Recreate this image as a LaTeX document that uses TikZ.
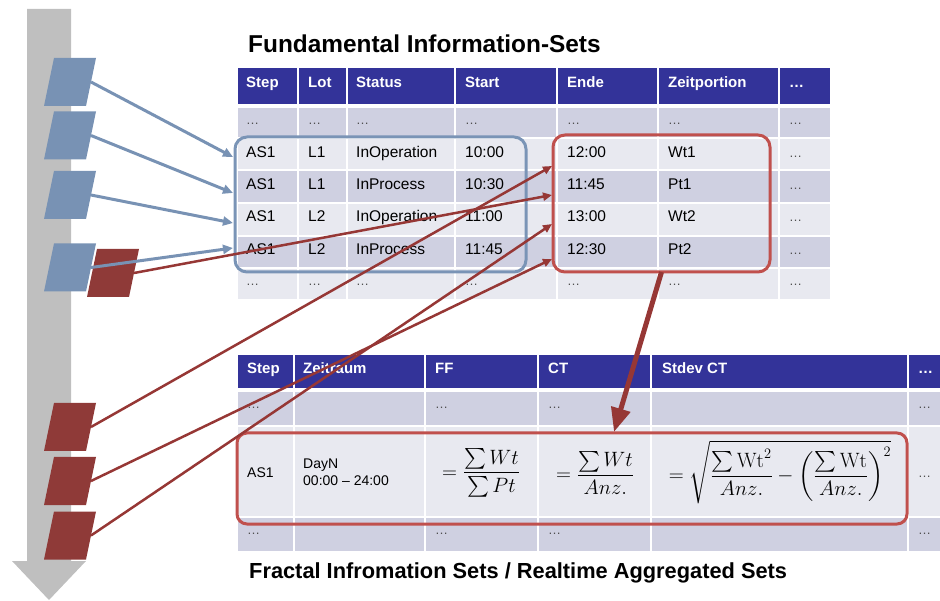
\documentclass[tikz,border=0pt]{standalone}
\usepackage[no-math]{fontspec}
\usepackage{exscale}
\setmainfont{Liberation Sans}
\usetikzlibrary{arrows.meta}
\definecolor{hdr}{RGB}{51,51,153}
\definecolor{cdark}{RGB}{207,208,225}
\definecolor{clight}{RGB}{232,233,240}
\definecolor{garrow}{RGB}{191,191,191}
\definecolor{bluebox}{RGB}{120,146,180}
\definecolor{redbox}{RGB}{143,58,56}
\definecolor{redline}{RGB}{150,55,53}
\definecolor{redframe}{RGB}{192,80,77}
\definecolor{blueframe}{RGB}{122,148,182}
\definecolor{dotgray}{RGB}{80,80,80}
\begin{document}
\begin{tikzpicture}[x=1pt,y=-1pt,
  cell/.style={anchor=base west, inner sep=0pt, font=\fontsize{15.5}{18}\selectfont},
  smallcell/.style={anchor=base west, inner sep=0pt, font=\fontsize{14}{17}\selectfont},
  hcell/.style={anchor=base west, inner sep=0pt, text=white, font=\fontsize{15}{18}\selectfont\bfseries},
  dcell/.style={anchor=base west, inner sep=0pt, text=dotgray, font=\fontsize{13}{16}\selectfont},
  titletext/.style={anchor=base west, inner sep=0pt, font=\fontsize{24.4}{28}\selectfont\bfseries},
  mathcell/.style={anchor=center, inner sep=0pt, font=\fontsize{20}{24}\selectfont},
  frame/.style={draw, rounded corners=12pt, inner sep=0pt, outer sep=0pt, line width=3pt},
  bluearr/.style={draw=bluebox, line width=3pt, -{Triangle[length=10pt,width=9pt]}},
  redarr/.style={draw=redline, line width=2.5pt, -{Triangle[length=9pt,width=8pt]}},
  bigarr/.style={draw=redline, line width=5pt, -{Triangle[length=24pt,width=19pt]}},
  para/.pic={\path[fill] (-26,24) -- (16,24) -- (26,-24) -- (-16,-24) -- cycle;
             \coordinate (-r) at (21,0);}
]
\useasboundingbox (0,0) rectangle (940,601);

% grey time arrow
\fill[garrow] (27,9) -- (71,9) -- (71,561) -- (86,561) -- (49,600) -- (12,561) -- (27,561) -- cycle;

% parallelograms
\pic[fill=bluebox] (b1) at (70,82) {para};
\pic[fill=bluebox] (b2) at (70,135.5) {para};
\pic[fill=bluebox] (b3) at (70,195) {para};
\pic[fill=bluebox] (b4) at (70,267.5) {para};
\pic[fill=redbox] (r0) at (113,273) {para};
\pic[fill=redbox] (rb1) at (70,427) {para};
\pic[fill=redbox] (rb2) at (70,481) {para};
\pic[fill=redbox] (rb3) at (70,535.5) {para};

% titles
\node[titletext] (title1) at (248,53) {Fundamental Information-Sets};
\node[titletext, font=\fontsize{21.8}{25}\selectfont\bfseries] (title2) at (249,578) {Fractal Infromation Sets / Realtime Aggregated Sets};

% ===== top table =====
\foreach \xa/\xb in {237/298,298/347,347/455,455/557,557/658,658/779,779/831}{
  \fill[hdr] (\xa+1,68) rectangle (\xb-1,104);
  \foreach \ya/\yb/\cc in {107/138/cdark,138/170.5/clight,170.5/203.5/cdark,203.5/236.5/clight,236.5/268.5/cdark,268.5/300/clight}{
    \fill[fill=\cc] (\xa+1,\ya+1) rectangle (\xb-1,\yb-1);
  }
}
\node[hcell] (h1) at (246,88) {Step};
\node[hcell] (h2) at (308,88) {Lot};
\node[hcell] (h3) at (356,88) {Status};
\node[hcell] (h4) at (465,88) {Start};
\node[hcell] (h5) at (567,88) {Ende};
\node[hcell] (h6) at (668,88) {Zeitportion};
\node[hcell] (h7) at (789,88) {…};

\foreach \xx [count=\i] in {246,308,356,465,567,668,789}{
  \node[dcell] (da\i) at (\xx,125) {…};
  \node[dcell] (df\i) at (\xx,286) {…};
}
\foreach \yy/\st/\lt/\ss/\ee/\zz [count=\r] in
  {158/L1/InOperation/10:00/12:00/Wt1,
   190/L1/InProcess/10:30/11:45/Pt1,
   222/L2/InOperation/11:00/13:00/Wt2,
   254.5/L2/InProcess/11:45/12:30/Pt2}{
  \node[cell] (s\r) at (246,\yy) {AS1};
  \node[cell] (l\r) at (308,\yy) {\st};
  \node[cell] (st\r) at (356,\yy) {\lt};
  \node[cell] (sa\r) at (465,\yy) {\ss};
  \node[cell] (en\r) at (567,\yy) {\ee};
  \node[cell] (zp\r) at (668,\yy) {\zz};
  \node[dcell] (dd\r) at (789,\yy) {…};
}

% ===== bottom table =====
\foreach \xa/\xb in {237/294,294/425,425/538,538/651,651/908,908/944}{
  \fill[hdr] (\xa+1,355) rectangle (\xb-1,388);
  \foreach \ya/\yb/\cc in {391/426/cdark,426/516.5/clight,516.5/552/cdark}{
    \fill[fill=\cc] (\xa+1,\ya+1) rectangle (\xb-1,\yb-1);
  }
}
\node[hcell] (g1) at (247,374) {Step};
\node[hcell] (g2) at (303,374) {Zeitraum};
\node[hcell] (g3) at (435,374) {FF};
\node[hcell] (g4) at (548,374) {CT};
\node[hcell] (g5) at (662,374) {Stdev CT};
\node[hcell] (g6) at (918,374) {…};
\foreach \xx [count=\i] in {247,435,548,918}{
  \node[dcell] (ea\i) at (\xx,408.5) {…};
  \node[dcell] (ec\i) at (\xx,534.5) {…};
}
\node[smallcell] (as) at (247,478) {AS1};
\node[smallcell] (day) at (303,468) {DayN};
\node[smallcell] (tim) at (303,485) {00:00 – 24:00};
\node[dcell] (eb) at (918,478) {…};
\node[mathcell] (ff) at (481,473) {$\displaystyle =\frac{\sum Wt}{\sum Pt}$};
\node[mathcell] (ct) at (595,473) {$\displaystyle =\frac{\sum Wt}{Anz.}$};
\node[mathcell] (sd) at (780,472) {$\displaystyle =\sqrt{\frac{\sum \mathrm{Wt}^2}{Anz.}-\left(\frac{\sum \mathrm{Wt}}{Anz.}\right)^{2}}$};

% ===== frames =====
\node[frame, draw=blueframe, minimum width=291pt, minimum height=135pt] (blueset) at (380.5,204.5) {};
\node[frame, draw=redframe, minimum width=217pt, minimum height=137pt] (redset) at (661.5,203.5) {};
\node[frame, draw=redframe, rounded corners=10pt, minimum width=670pt, minimum height=91pt] (aggset) at (572,478.5) {};

% targets
\coordinate (bt1) at (233,157);
\coordinate (bt2) at (233,193);
\coordinate (bt3) at (233,223);
\coordinate (bt4) at (233,248);
\coordinate (rt1) at (552,166);
\coordinate (rt2) at (552,195);
\coordinate (rt3) at (552,224);
\coordinate (rt4) at (552,259);
\coordinate (bigtip) at (614,432);

% connectors
\draw[bluearr] (b1-r) -- (bt1);
\draw[bluearr] (b2-r) -- (bt2);
\draw[bluearr] (b3-r) -- (bt3);
\draw[bluearr] (b4-r) -- (bt4);
\draw[redarr] (r0-r) -- (rt2);
\draw[redarr] (rb1-r) -- (rt1);
\draw[redarr] (rb2-r) -- (rt4);
\draw[redarr] (rb3-r) -- (rt3);
\draw[bigarr] (redset.south) -- (bigtip);
\end{tikzpicture}
\end{document}
